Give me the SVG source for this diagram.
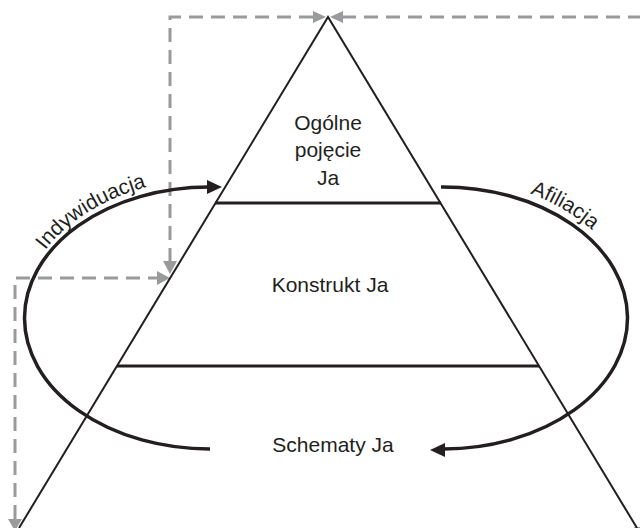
<svg xmlns="http://www.w3.org/2000/svg" width="640" height="528" viewBox="0 0 640 528">
<style>
.tri{fill:none;stroke:#231f20;stroke-width:2}
.lvl{fill:none;stroke:#231f20;stroke-width:2.8}
.loop{fill:none;stroke:#231f20;stroke-width:3.5}
.dash{fill:none;stroke:#999a9c;stroke-width:3;stroke-dasharray:14 8}
.ah{fill:#231f20}
.gh{fill:#999a9c}
text{font-family:"Liberation Sans",Arial,sans-serif;font-size:21px;fill:#231f20}
.c{text-anchor:middle}
</style>
<defs>
<path id="tpL" d="M21,318 A194,140 0 0 1 215,178"/>
<path id="tpR" d="M441,178 A194,140 0 0 1 635,318"/>
</defs>
<rect width="640" height="528" fill="#fff"/>
<g id="connectors">
<path class="dash" d="M170,262 L170,17 L314,17"/>
<path class="dash" d="M642,17 L342,17"/>
<path class="dash" d="M15,519 L15,278 L157,278"/>
<polygon class="gh" points="326,17 313,11 313,23"/>
<polygon class="gh" points="330,17 343,11 343,23"/>
<polygon class="gh" points="170,274 163,261 177,261"/>
<polygon class="gh" points="170,278 157,271 157,285"/>
<polygon class="gh" points="15,531 8,519 22,519"/>
<polygon class="gh" points="634,527 648,527 641,538"/>
</g>
<g id="pyramid">
<path class="tri" d="M19,528 L328,17 L637,528"/>
</g>
<g id="level-top">
<line class="lvl" x1="215" y1="203" x2="441" y2="203"/>
<text class="c" x="328" y="130">Ogólne</text>
<text class="c" x="328" y="157">pojęcie</text>
<text class="c" x="328" y="185">Ja</text>
</g>
<g id="level-mid">
<line class="lvl" x1="117" y1="366" x2="539" y2="366"/>
<text class="c" x="330" y="292">Konstrukt Ja</text>
</g>
<g id="level-bottom">
<text class="c" x="333" y="452">Schematy Ja</text>
</g>
<g id="loop-individuation">
<path class="loop" d="M210,449 A185,131 0 0 1 209,187"/>
<polygon class="ah" points="222,187 207,180 207,194"/>
<text><textPath href="#tpL" startOffset="134" text-anchor="middle">Indywiduacja</textPath></text>
</g>
<g id="loop-affiliation">
<path class="loop" d="M441,187 A185,131 0 0 1 444,449"/>
<polygon class="ah" points="430,450 445,443 445,457"/>
<text><textPath href="#tpR" startOffset="127" text-anchor="middle">Afiliacja</textPath></text>
</g>
</svg>
